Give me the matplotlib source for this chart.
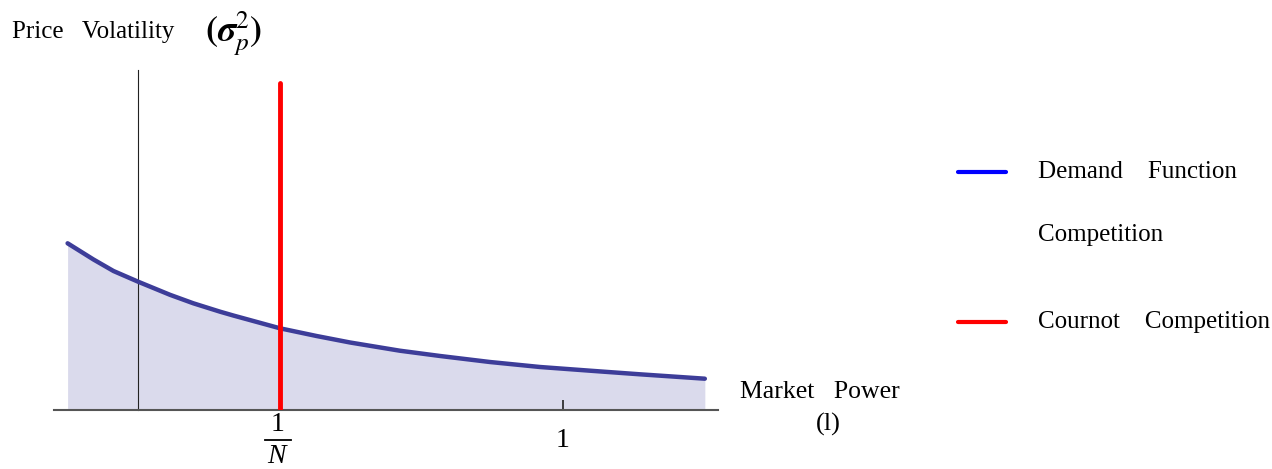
import matplotlib
matplotlib.use("Agg")
import matplotlib.pyplot as plt
from matplotlib.lines import Line2D

plt.rcParams['font.family'] = ['Liberation Serif', 'DejaVu Serif']
plt.rcParams['mathtext.fontset'] = 'stix'

# Data (market power l, price volatility)
market_power = [-0.166, -0.105, -0.058, 0.0, 0.075, 0.130, 0.193, 0.224, 0.334,
                0.420, 0.499, 0.616, 0.711, 0.828, 0.946, 1.064, 1.181, 1.334]
volatility = [1.667, 1.505, 1.39, 1.283, 1.152, 1.067, 0.983, 0.945, 0.817,
              0.74, 0.675, 0.593, 0.54, 0.48, 0.43, 0.393, 0.357, 0.313]
cournot_x = 1 / 3
cournot_top = 3.27
xtick_vals = [1 / 3, 1.0]
xtick_labels = [('1', 'N'), '1']

W, H = 1272, 469
fig = plt.figure(figsize=(W / 100, H / 100), dpi=100)
AX_H = 340
ax = fig.add_axes([54 / W, 59 / H, 664 / W, AX_H / H])
ax.set_xlim(-0.198, 1.365)
ax.set_ylim(0, 3.4)


def ypx(py):
    """axes-fraction y for a pixel row measured from the top of the figure"""
    return (410 - py) / AX_H


curve_col = '#3d3d99'
fill_col = '#dadaec'
ax.fill_between(market_power, volatility, 0, color=fill_col, lw=0, zorder=1)
ax.plot(market_power, volatility, color=curve_col, lw=3.2, solid_capstyle='round',
        solid_joinstyle='round', zorder=3)
ax.plot([cournot_x, cournot_x], [0, cournot_top], color='#ff0000', lw=3.5,
        solid_capstyle='round', zorder=4)

for s in ['top', 'right']:
    ax.spines[s].set_visible(False)
ax.spines['left'].set_position(('data', 0))
ax.spines['bottom'].set_position(('data', 0))
ax.spines['left'].set_color('#222222')
ax.spines['left'].set_linewidth(0.8)
ax.spines['bottom'].set_color('#555555')
ax.spines['bottom'].set_linewidth(1.5)
ax.set_yticks([])
ax.set_xticks(xtick_vals)
ax.set_xticklabels([])
ax.tick_params(axis='x', direction='in', length=7, width=1.2, color='#222222')

tr = ax.get_xaxis_transform()
for xv, lab in zip(xtick_vals, xtick_labels):
    if isinstance(lab, tuple):
        num, den = lab
        ax.text(xv - 0.004, ypx(424), num, ha='center', va='center', fontsize=20,
                transform=tr, clip_on=False)
        ax.plot([xv - 0.034, xv + 0.027], [ypx(440), ypx(440)], color='black', lw=1.3,
                transform=tr, clip_on=False)
        ax.text(xv - 0.008, ypx(456), den, ha='center', va='center', fontsize=20,
                style='italic', transform=tr, clip_on=False)
    else:
        ax.text(xv, ypx(440), lab, ha='center', va='center', fontsize=20,
                transform=tr, clip_on=False)

fig.text(740 / W, 1 - 392 / H, 'Market   Power', ha='left', va='center', fontsize=18.5)
fig.text(828 / W, 1 - 424 / H, '(l)', ha='center', va='center', fontsize=19)

fig.text(12 / W, 1 - 32 / H, 'Price   Volatility', ha='left', va='center', fontsize=18)
fig.text(205 / W, 1 - 34 / H, r'$\mathbf{(}\boldsymbol{\sigma}_p^2\mathbf{)}$',
         ha='left', va='center', fontsize=26)

# legend
fig.add_artist(Line2D([958 / W, 1006 / W], [1 - 172 / H, 1 - 172 / H], color='#0000ff',
                      lw=3, solid_capstyle='round', transform=fig.transFigure))
fig.add_artist(Line2D([958 / W, 1006 / W], [1 - 322 / H, 1 - 322 / H], color='#ff0000',
                      lw=3, solid_capstyle='round', transform=fig.transFigure))
fig.text(1038 / W, 1 - 172 / H, 'Demand    Function', ha='left', va='center', fontsize=18)
fig.text(1038 / W, 1 - 235 / H, 'Competition', ha='left', va='center', fontsize=18)
fig.text(1038 / W, 1 - 322 / H, 'Cournot    Competition', ha='left', va='center', fontsize=18)

fig.savefig('out.png', dpi=100)
